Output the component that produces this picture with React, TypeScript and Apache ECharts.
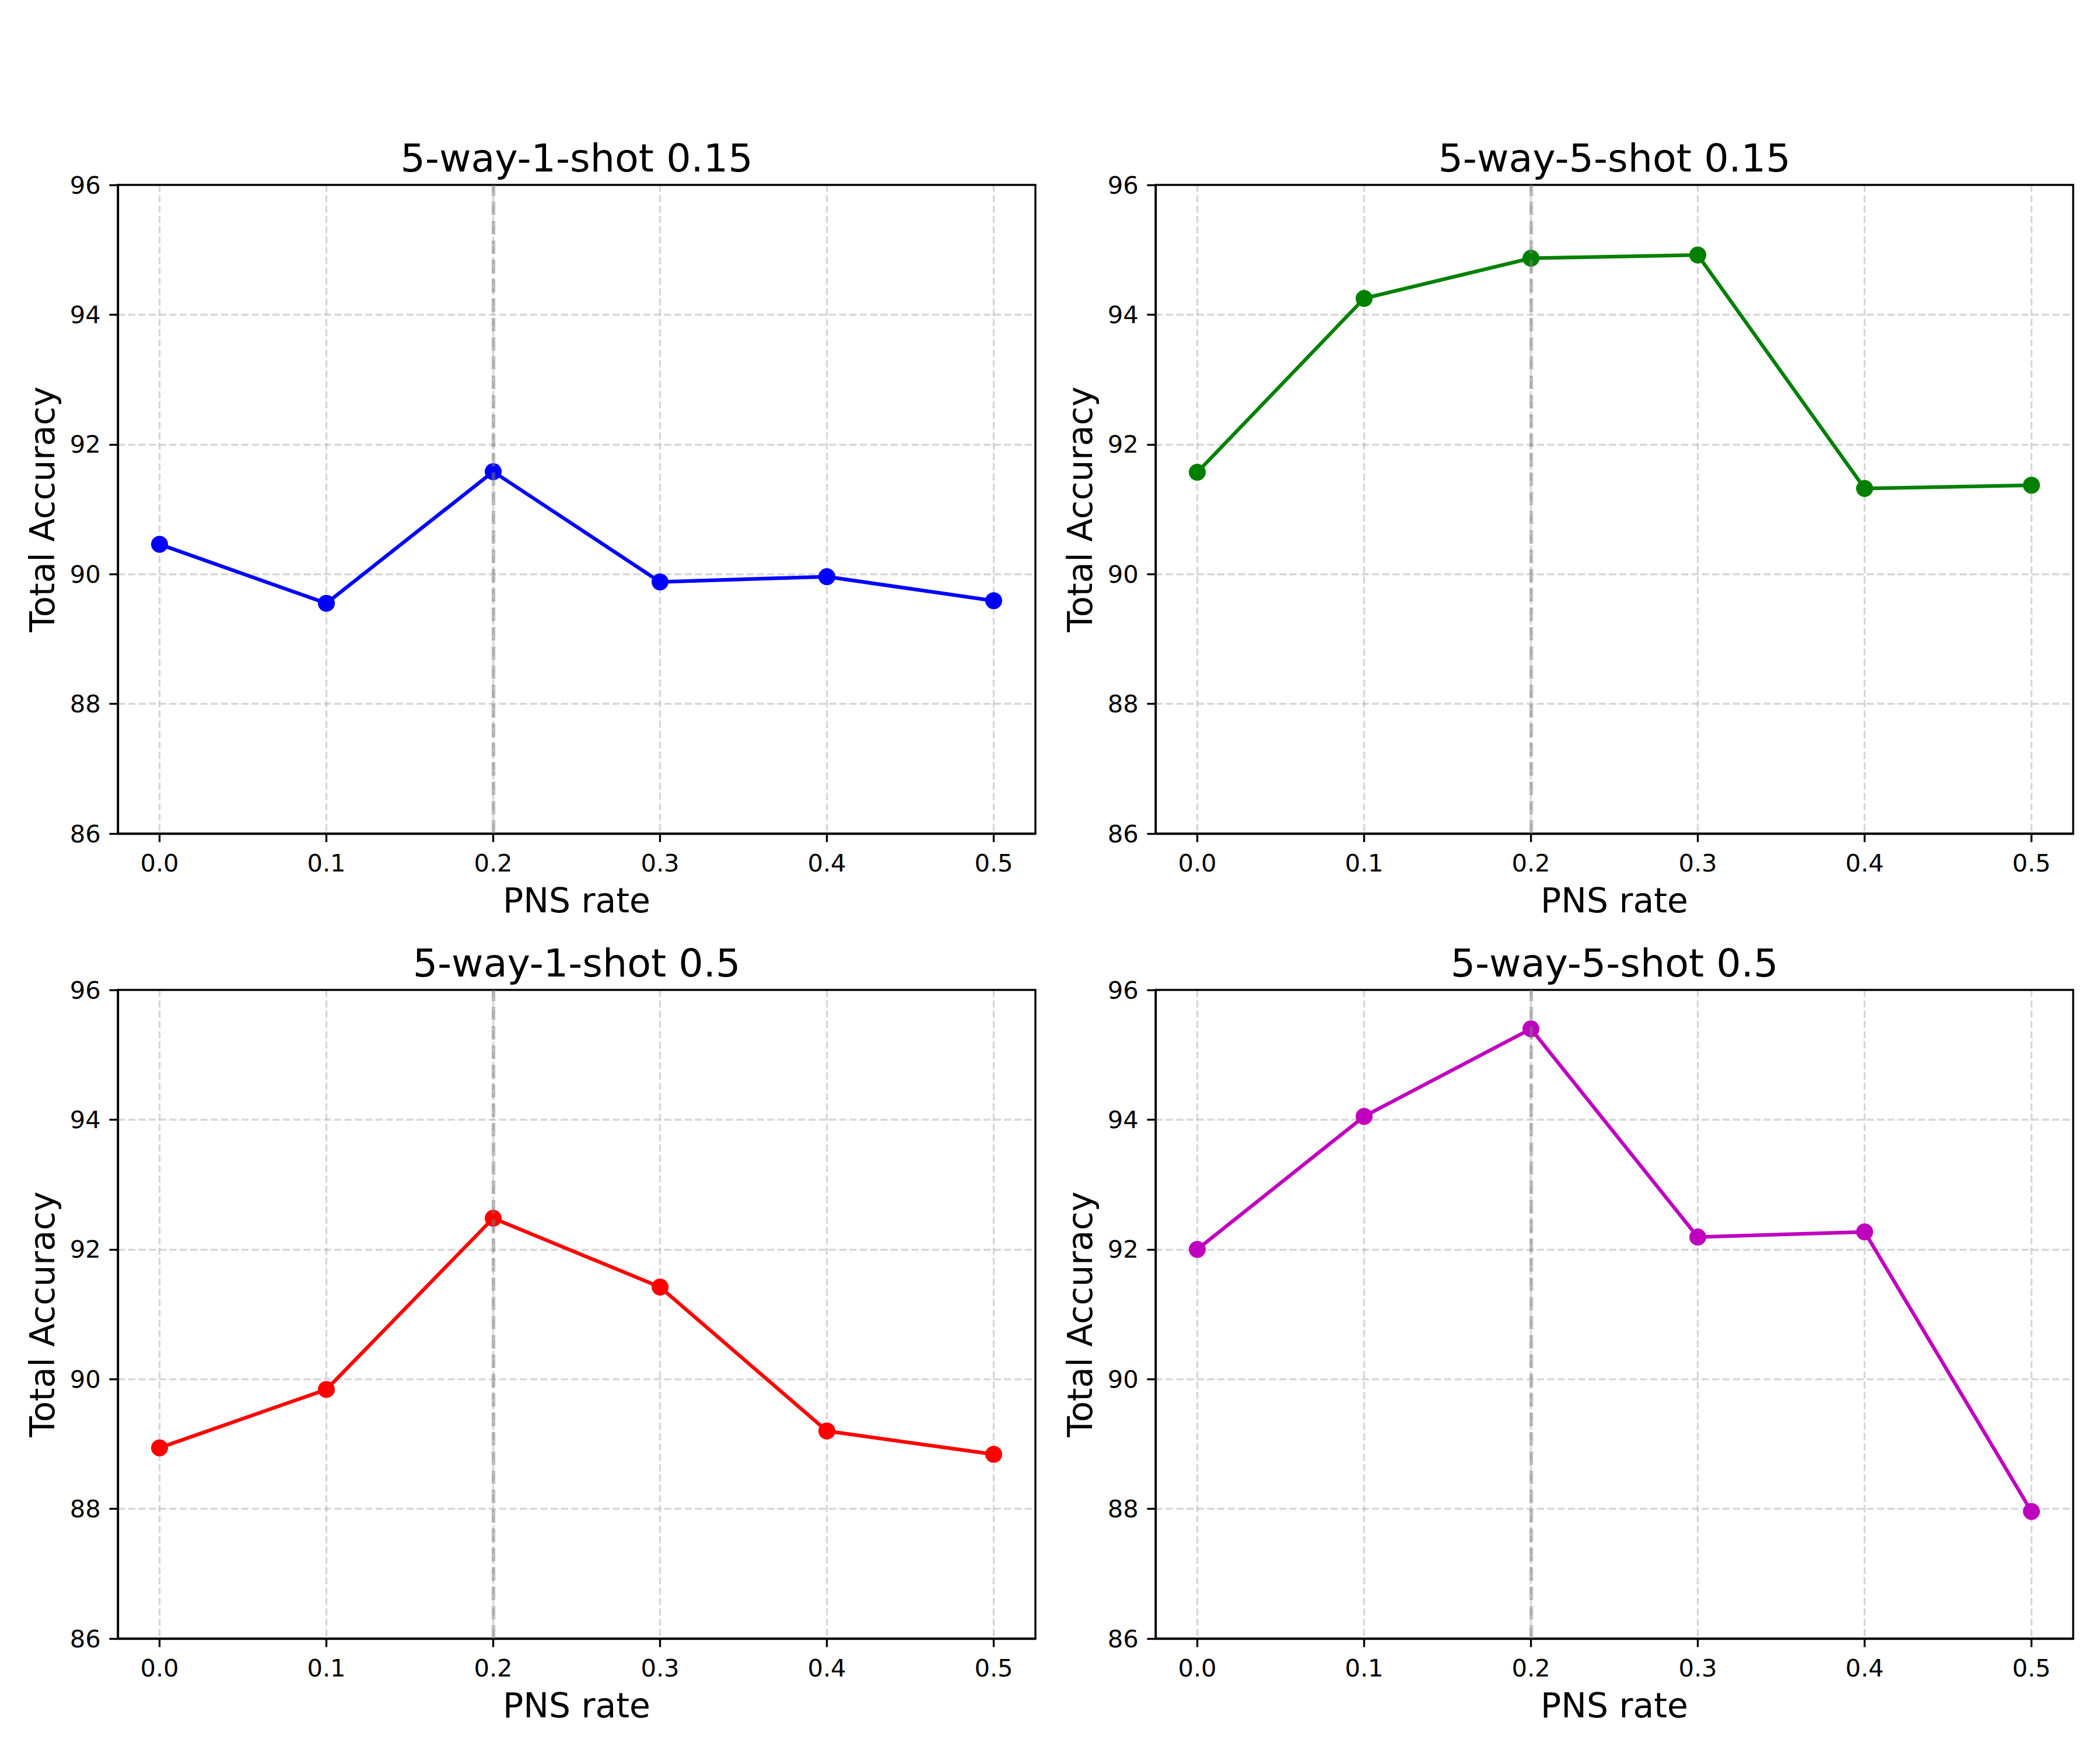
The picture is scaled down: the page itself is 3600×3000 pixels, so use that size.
import React, { useEffect, useRef } from "react";
import * as echarts from "echarts";

const pnsRates = [0.0, 0.1, 0.2, 0.3, 0.4, 0.5];
const xTicks = [0.0, 0.1, 0.2, 0.3, 0.4, 0.5];
const yTicks = [86, 88, 90, 92, 94, 96];
const highlightRate = [0.2];

const titles = ["5-way-1-shot 0.15", "5-way-5-shot 0.15", "5-way-1-shot 0.5", "5-way-5-shot 0.5"];
const acc1shot015 = [90.46, 89.55, 91.58, 89.88, 89.96, 89.59];
const acc5shot015 = [91.57, 94.25, 94.87, 94.92, 91.32, 91.37];
const acc1shot05 = [88.94, 89.84, 92.48, 91.42, 89.2, 88.84];
const acc5shot05 = [92.0, 94.05, 95.4, 92.19, 92.27, 87.96];
const seriesValues = [acc1shot015, acc5shot015, acc1shot05, acc5shot05];
const seriesColors = ["#0000ff", "#008000", "#ff0000", "#bf00bf"];

const FONT = "DejaVu Sans";
const PX = 300 / 72;

export default function App() {
  const ref = useRef<HTMLDivElement>(null);
  useEffect(() => {
    document.body.style.margin = "0";
    if (!ref.current) return;
    const chart = echarts.init(ref.current, undefined, { renderer: "svg" });
    const lefts = [202, 1981];
    const tops = [317, 1697];
    const W = 1573;
    const H = 1112;
    const grids: any[] = [];
    const xAxes: any[] = [];
    const yAxes: any[] = [];
    const series: any[] = [];
    const titleOpts: any[] = [];
    const gridStyle = { color: "#b0b0b0", opacity: 0.5, width: 0.8 * PX, type: [2.96 * PX, 1.28 * PX] };
    for (let i = 0; i < 4; i++) {
      const col = i % 2;
      const row = Math.floor(i / 2);
      grids.push({
        left: lefts[col],
        top: tops[row],
        width: W,
        height: H,
        show: true,
        borderColor: "#000",
        borderWidth: 0.8 * PX,
        backgroundColor: "transparent",
        containLabel: false,
        z: 3,
      });
      titleOpts.push({
        text: titles[i],
        left: lefts[col] + W / 2,
        top: tops[row] - 80,
        textAlign: "center",
        padding: 0,
        textStyle: { fontSize: 16 * PX, fontWeight: "normal", fontFamily: FONT, color: "#000" },
      });
      xAxes.push({
        type: "value",
        gridIndex: i,
        min: -0.025,
        max: 0.525,
        name: "PNS rate",
        nameLocation: "middle",
        nameGap: 86,
        nameTextStyle: { fontSize: 14 * PX, fontFamily: FONT, color: "#000" },
        axisLine: { show: true, onZero: false, lineStyle: { color: "#000", width: 0.8 * PX } },
        axisTick: {
          show: true,
          inside: false,
          length: 3.5 * PX,
          customValues: xTicks,
          lineStyle: { color: "#000", width: 0.8 * PX },
        },
        axisLabel: {
          show: true,
          margin: 7 * PX,
          customValues: xTicks,
          fontSize: 10 * PX,
          fontFamily: FONT,
          color: "#000",
          formatter: (v: number) => v.toFixed(1),
        },
        splitLine: { show: true, showMinLine: true, showMaxLine: true, lineStyle: gridStyle },
      });
      yAxes.push({
        type: "value",
        gridIndex: i,
        min: 86,
        max: 96,
        interval: 2,
        name: "Total Accuracy",
        nameLocation: "middle",
        nameGap: 100,
        nameTextStyle: { fontSize: 14 * PX, fontFamily: FONT, color: "#000" },
        axisLine: { show: true, onZero: false, lineStyle: { color: "#000", width: 0.8 * PX } },
        axisTick: { show: true, inside: false, length: 3.5 * PX, lineStyle: { color: "#000", width: 0.8 * PX } },
        axisLabel: {
          show: true,
          margin: 7 * PX,
          fontSize: 10 * PX,
          fontFamily: FONT,
          color: "#000",
          customValues: yTicks,
        },
        splitLine: { show: true, showMinLine: false, showMaxLine: false, lineStyle: gridStyle },
      });
      series.push({
        type: "line",
        xAxisIndex: i,
        yAxisIndex: i,
        data: pnsRates.map((x, k) => [x, seriesValues[i][k]]),
        symbol: "circle",
        symbolSize: 7 * PX,
        showSymbol: true,
        lineStyle: { color: seriesColors[i], width: 1.5 * PX },
        itemStyle: { color: seriesColors[i], borderWidth: 0 },
        emphasis: { disabled: true },
        markLine: {
          silent: true,
          symbol: "none",
          label: { show: false },
          animation: false,
          lineStyle: { color: "#808080", opacity: 0.5, width: 1.5 * PX, type: [5.55 * PX, 2.4 * PX] },
          data: highlightRate.map((x) => ({ xAxis: x })),
        },
      });
    }
    chart.setOption({
      animation: false,
      backgroundColor: "#fff",
      title: titleOpts,
      grid: grids,
      xAxis: xAxes,
      yAxis: yAxes,
      series,
    });
    return () => chart.dispose();
  }, []);
  return <div ref={ref} style={{ width: 3600, height: 3000 }} />;
}
